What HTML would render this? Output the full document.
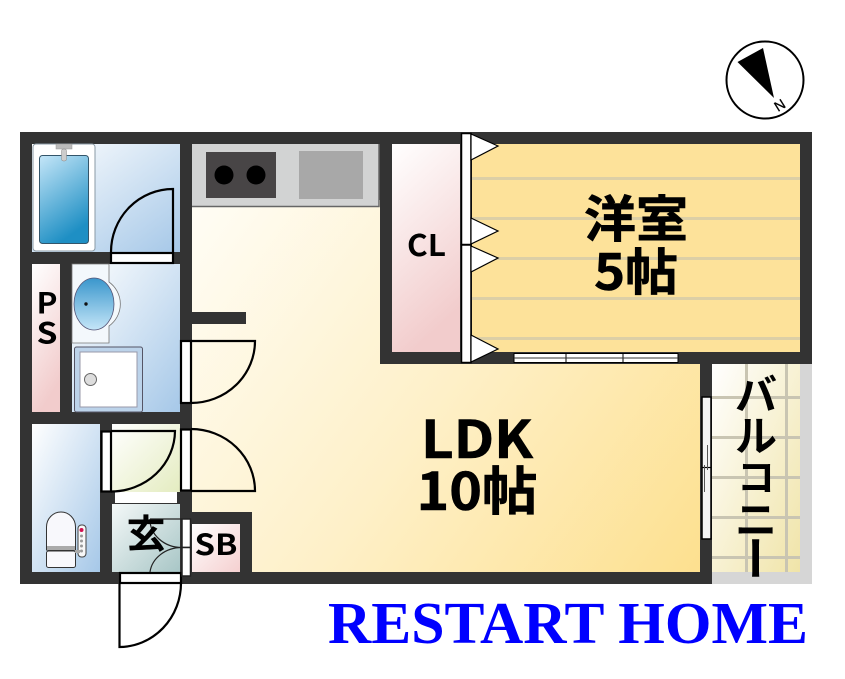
<!DOCTYPE html>
<html><head><meta charset="utf-8"><style>
html,body{margin:0;padding:0;background:#fff;width:845px;height:679px;overflow:hidden}
svg{display:block}
text{font-family:"Liberation Sans","Noto Sans CJK JP",sans-serif}
.j{font-family:"Noto Sans CJK JP",sans-serif;font-weight:700;fill:#000}
.b{stroke:#000;stroke-width:.6}
</style></head><body>
<svg width="845" height="679" viewBox="0 0 845 679" xmlns="http://www.w3.org/2000/svg">
<defs>
<linearGradient id="blue" x1="0" y1="0" x2="1" y2="1"><stop offset="0" stop-color="#fff"/><stop offset="1" stop-color="#a6c8e8"/></linearGradient>
<linearGradient id="tub" x1="0" y1="0" x2="0.4" y2="1"><stop offset="0" stop-color="#c5e6f8"/><stop offset="1" stop-color="#1e8fc4"/></linearGradient>
<linearGradient id="sink" x1="0" y1="1" x2="0" y2="0"><stop offset="0" stop-color="#c5e6f8"/><stop offset="1" stop-color="#3a96cc"/></linearGradient>
<linearGradient id="pink" x1="0" y1="0" x2="0.3" y2="1"><stop offset="0" stop-color="#fff"/><stop offset="1" stop-color="#f2cccc"/></linearGradient>
<linearGradient id="pink2" x1="0" y1="0" x2="1" y2="1"><stop offset="0" stop-color="#fff"/><stop offset="1" stop-color="#f5d0d0"/></linearGradient>
<linearGradient id="green" x1="0" y1="0" x2="1" y2="1"><stop offset="0" stop-color="#fff"/><stop offset="1" stop-color="#e4ecc0"/></linearGradient>
<linearGradient id="teal" x1="0" y1="0" x2="1" y2="1"><stop offset="0" stop-color="#f4f8f8"/><stop offset="1" stop-color="#a8c6c6"/></linearGradient>
<linearGradient id="ldk" gradientUnits="userSpaceOnUse" x1="192" y1="207" x2="700" y2="572"><stop offset="0" stop-color="#fffdf5"/><stop offset="0.5" stop-color="#fef0c8"/><stop offset="1" stop-color="#fde08f"/></linearGradient>
<linearGradient id="balc" x1="0" y1="0" x2="1" y2="1"><stop offset="0" stop-color="#fff"/><stop offset="1" stop-color="#f0e4a8"/></linearGradient>
</defs>

<!-- walls -->
<rect x="20" y="132" width="792" height="452" fill="#333"/>
<!-- balcony outer -->
<rect x="712" y="364" width="100" height="220" fill="#d6d6d6"/>
<rect x="712" y="364" width="88" height="208" fill="url(#balc)"/>
<g fill="#c9c5b2">
<rect x="712" y="396" width="88" height="3"/><rect x="712" y="436" width="88" height="3"/><rect x="712" y="476" width="88" height="3"/><rect x="712" y="516" width="88" height="3"/><rect x="712" y="556" width="88" height="3"/>
<rect x="745" y="364" width="3" height="208"/><rect x="785" y="364" width="3" height="208"/>
</g>

<!-- LDK floor -->
<path d="M192 200H380V364H700V572H252V512H192Z" fill="url(#ldk)"/>
<rect x="192" y="312" width="54" height="12" fill="#333"/>

<!-- kitchen -->
<rect x="192" y="144" width="187" height="63" fill="#d2d3d3"/>
<path d="M379 144V206.500H192" fill="none" stroke="#666" stroke-width="1.500"/>
<rect x="206" y="152" width="70" height="46" fill="#484546"/>
<circle cx="224" cy="175" r="9.500" fill="#000"/><circle cx="256" cy="175" r="9.500" fill="#000"/>
<rect x="299" y="151" width="64" height="48" fill="#a8a8a8"/>

<!-- bedroom -->
<rect x="392" y="144" width="68" height="208" fill="url(#pink)"/>
<rect x="472" y="144" width="328" height="208" fill="#fde29a"/>
<g fill="#dccfa6">
<rect x="472" y="177" width="328" height="3"/><rect x="472" y="217" width="328" height="3"/><rect x="472" y="257" width="328" height="3"/><rect x="472" y="297" width="328" height="3"/><rect x="472" y="337" width="328" height="3"/>
</g>

<!-- bath -->
<rect x="32" y="144" width="148" height="108" fill="url(#blue)"/>
<rect x="33" y="144" width="62" height="107" rx="3" fill="#fff" stroke="#8a9aa5" stroke-width="1"/>
<rect x="39.500" y="155.500" width="49" height="88" rx="3" fill="url(#tub)" stroke="#33556a" stroke-width="1"/>
<rect x="56" y="144" width="16" height="5" fill="#bbb" stroke="#999" stroke-width=".5"/>
<rect x="61.500" y="149" width="5" height="12" rx="2" fill="#ccc" stroke="#888" stroke-width=".5"/>

<!-- washroom -->
<rect x="72" y="264" width="108" height="148" fill="url(#blue)"/>
<path d="M72 264H109V282A27 27 0 0 1 109 326V343H72Z" fill="#f3f8fc" stroke="#777" stroke-width=".8"/>
<ellipse cx="94" cy="304" rx="20" ry="26" fill="url(#sink)" stroke="#557" stroke-width=".8"/>
<circle cx="86" cy="304" r="1.700" fill="#111"/>
<rect x="74.500" y="347" width="68" height="65" rx="2" fill="#bcd3ea" stroke="#556" stroke-width="1"/>
<rect x="80" y="352" width="57" height="55" fill="#fff" stroke="#99a" stroke-width="1"/>
<circle cx="90.500" cy="379.500" r="6" fill="#ddd" stroke="#666" stroke-width="1"/>

<!-- PS -->
<rect x="32" y="264" width="28" height="148" fill="url(#pink)"/>

<!-- toilet room -->
<rect x="32" y="424" width="68" height="148" fill="url(#blue)"/>
<path d="M46.500 550V527A14.500 15 0 0 1 75.500 527V550Z" fill="#f8f8fc" stroke="#333" stroke-width="1"/>
<rect x="46.500" y="551" width="29" height="16.500" rx="2" fill="#f8f8fc" stroke="#333" stroke-width="1"/>
<rect x="47" y="546" width="28" height="4" fill="#aaa"/>
<rect x="78" y="525" width="8" height="32" rx="3.500" fill="#f8f8f8" stroke="#444" stroke-width="1"/>
<rect x="75" y="550" width="5" height="3" fill="#aaa"/>
<circle cx="81.500" cy="530" r="2" fill="#d01050"/>
<g fill="#999"><circle cx="81.500" cy="536" r="1.500"/><circle cx="81.500" cy="541" r="1.500"/><circle cx="81.500" cy="546" r="1.500"/><circle cx="81.500" cy="551" r="1.500"/></g>

<!-- entrance -->
<rect x="112" y="424" width="68" height="68" fill="url(#green)"/>
<rect x="115" y="492" width="62" height="11" fill="#fff"/>
<rect x="112" y="504" width="68" height="68" fill="url(#teal)"/>
<rect x="192" y="524" width="48" height="48" fill="url(#pink2)"/>

<!-- doors -->
<g fill="none" stroke="#000" stroke-width="2.200">
<rect x="111" y="253" width="62" height="10" fill="#fff"/>
<path d="M173 253V189A62 63 0 0 0 111 252" fill="none"/>
<rect x="181" y="341" width="10" height="62" fill="#fff"/>
<path d="M191 341H255A64 62 0 0 1 191 403"/>
<rect x="101.500" y="431.500" width="9.500" height="60" fill="#fff"/>
<path d="M111 431H175A64 61 0 0 1 111 491.500"/>
<rect x="181" y="429.500" width="10" height="61" fill="#fff"/>
<path d="M191 429A64 62 0 0 1 255 491H191"/>
<rect x="120" y="573" width="61" height="10" fill="#fff"/>
<path d="M119.500 584V647A62 64 0 0 0 181 583"/>
</g>
<g fill="none" stroke="#222" stroke-width="1.200">
<path d="M150 519H182M150 519A32 28 0 0 0 182 547.500M150 572A32 28 0 0 1 182 547.500"/>
<rect x="182" y="519" width="8.500" height="28.500" fill="#fff" stroke-width="1.500"/>
<rect x="182" y="547.500" width="8.500" height="28.500" fill="#fff" stroke-width="1.500"/>
</g>

<!-- closet doors -->
<rect x="461.500" y="133.500" width="9.500" height="111" fill="#fff" stroke="#000" stroke-width="1.500"/>
<rect x="461.500" y="245" width="9.500" height="117.500" fill="#fff" stroke="#000" stroke-width="1.500"/>
<g fill="#fff" stroke="#000" stroke-width="1.200">
<path d="M471 134L498 146L471 160Z"/>
<path d="M471 218L498 231L471 244Z"/>
<path d="M471 246L498 258L471 272Z"/>
<path d="M471 335L498 349L471 362Z"/>
</g>

<!-- bedroom window -->
<g fill="#fff" stroke="#000" stroke-width="1">
<rect x="514" y="353.500" width="52" height="9"/><rect x="566" y="353.500" width="57" height="9"/><rect x="623" y="353.500" width="55" height="9"/>
</g>
<path d="M514 358H572M566 358H625M620 358H678" stroke="#333" stroke-width="1"/>

<!-- balcony window -->
<rect x="702" y="397" width="9" height="142" fill="#f4f4f4" stroke="#000" stroke-width="1.500"/>
<path d="M702 467.500H711" stroke="#000" stroke-width="1.200"/>
<path d="M707.500 445V470M704.500 465V492" stroke="#555" stroke-width="1"/>

<!-- compass -->
<circle cx="765" cy="80" r="38.500" fill="#fff" stroke="#000" stroke-width="2"/>
<path d="M737.500 62L763 48L774 98Z" fill="#000"/>
<text transform="translate(778,112) rotate(-32)" font-size="14" fill="#000" stroke="#000" stroke-width=".3">N</text>

<!-- labels -->
<text class="j b" x="636" y="237" font-size="50" text-anchor="middle" textLength="104" lengthAdjust="spacingAndGlyphs">洋室</text>
<text class="j b" x="636" y="290" font-size="50" text-anchor="middle" textLength="84" lengthAdjust="spacingAndGlyphs">5帖</text>
<text class="j" x="426.500" y="256" font-size="30" text-anchor="middle" textLength="39" lengthAdjust="spacingAndGlyphs" font-weight="500">CL</text>
<text class="j b" x="477" y="458" font-size="52" text-anchor="middle" textLength="112" lengthAdjust="spacingAndGlyphs">LDK</text>
<text class="j b" x="477" y="510" font-size="52" text-anchor="middle" textLength="121" lengthAdjust="spacingAndGlyphs">10帖</text>
<text class="j" x="47" y="313.500" font-size="29" text-anchor="middle" textLength="21" lengthAdjust="spacingAndGlyphs" font-weight="500">P</text>
<text class="j" x="47" y="343.500" font-size="29" text-anchor="middle" textLength="21" lengthAdjust="spacingAndGlyphs" font-weight="500">S</text>
<text class="j" x="216" y="555" font-size="29" text-anchor="middle" textLength="43" lengthAdjust="spacingAndGlyphs" font-weight="500">SB</text>
<text class="j" x="146" y="548" font-size="39" text-anchor="middle">玄</text>
<text class="j" x="756" y="410" font-size="42" text-anchor="middle">バ</text>
<text class="j" x="756" y="451" font-size="42" text-anchor="middle">ル</text>
<text class="j" x="756" y="491" font-size="38" text-anchor="middle">コ</text>
<text class="j" x="756" y="535" font-size="42" text-anchor="middle">ニ</text>
<text class="j" transform="translate(738,558) rotate(90)" font-size="46" text-anchor="middle">ー</text>

<text x="328" y="643" font-size="59" font-weight="700" fill="#0000ff" textLength="480" lengthAdjust="spacingAndGlyphs" style="font-family:'Liberation Serif',serif">RESTART HOME</text>
</svg>
</body></html>
